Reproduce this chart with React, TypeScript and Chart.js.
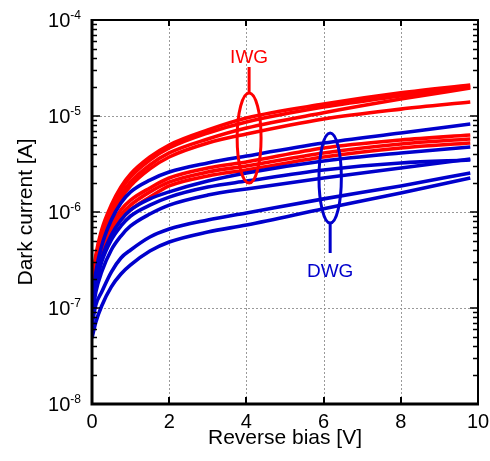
import React, { useEffect, useRef } from "react";
import { Chart, registerables } from "chart.js";

Chart.register(...registerables);

// Reverse bias sample points [V]
const biasV = [0, 0.1, 0.25, 0.5, 0.75, 1, 1.5, 2, 3, 4, 6, 8, 9.8];

// IWG photodiodes, dark current [A]
const iwg1 = [1.74e-7, 3.57e-7, 6.49e-7, 1.18e-6, 1.82e-6, 2.49e-6, 3.74e-6, 4.99e-6, 7.15e-6, 9.53e-6, 1.33e-5, 1.74e-5, 2.1e-5];
const iwg2 = [1.54e-7, 3.32e-7, 6.04e-7, 1.1e-6, 1.7e-6, 2.32e-6, 3.48e-6, 4.64e-6, 6.65e-6, 8.66e-6, 1.24e-5, 1.62e-5, 2.01e-5];
const iwg3 = [1.37e-7, 3.01e-7, 5.36e-7, 9.76e-7, 1.5e-6, 2.05e-6, 3.09e-6, 4.12e-6, 5.76e-6, 7.5e-6, 1.08e-5, 1.5e-5, 1.96e-5];
const iwg4 = [1.21e-7, 2.61e-7, 4.64e-7, 8.66e-7, 1.37e-6, 1.87e-6, 2.81e-6, 3.74e-6, 5.23e-6, 6.49e-6, 9.31e-6, 1.18e-5, 1.4e-5];
const iwg5 = [1.21e-7, 2.49e-7, 4.32e-7, 7.32e-7, 1.05e-6, 1.33e-6, 1.78e-6, 2.26e-6, 2.87e-6, 3.32e-6, 4.64e-6, 5.62e-6, 6.34e-6];
const iwg6 = [1.08e-7, 2.21e-7, 3.83e-7, 6.49e-7, 9.31e-7, 1.18e-6, 1.62e-6, 2.05e-6, 2.61e-6, 3.01e-6, 4.12e-6, 5.11e-6, 5.76e-6];
const iwg7 = [1.0e-7, 1.96e-7, 3.4e-7, 5.76e-7, 8.25e-7, 1.05e-6, 1.43e-6, 1.87e-6, 2.37e-6, 2.74e-6, 3.74e-6, 4.64e-6, 5.23e-6];

// DWG photodiodes, dark current [A]
const dwg1 = [1.08e-7, 2.37e-7, 4.42e-7, 8.25e-7, 1.24e-6, 1.62e-6, 2.15e-6, 2.61e-6, 3.24e-6, 3.83e-6, 5.23e-6, 6.65e-6, 8.25e-6];
const dwg2 = [1.0e-7, 1.96e-7, 3.32e-7, 5.76e-7, 8.25e-7, 1.05e-6, 1.37e-6, 1.62e-6, 2.1e-6, 2.55e-6, 3.4e-6, 4.12e-6, 4.75e-6];
const dwg3 = [9.09e-8, 1.74e-7, 3.01e-7, 5.11e-7, 7.15e-7, 9.09e-7, 1.18e-6, 1.43e-6, 1.82e-6, 2.1e-6, 2.74e-6, 3.24e-6, 3.48e-6];
const dwg4 = [7.87e-8, 1.47e-7, 2.37e-7, 4.02e-7, 5.62e-7, 7.15e-7, 9.53e-7, 1.18e-6, 1.5e-6, 1.74e-6, 2.26e-6, 2.87e-6, 3.57e-6];
const dwg5 = [6.65e-8, 1.08e-7, 1.47e-7, 2.37e-7, 3.32e-7, 4.02e-7, 5.49e-7, 6.65e-7, 8.25e-7, 9.76e-7, 1.37e-6, 1.87e-6, 2.55e-6];
const dwg6 = [4.87e-8, 7.15e-8, 1.05e-7, 1.66e-7, 2.26e-7, 2.81e-7, 3.92e-7, 4.87e-7, 6.19e-7, 7.32e-7, 1.08e-6, 1.58e-6, 2.26e-6];

const iwgSeries = [iwg1, iwg2, iwg3, iwg4, iwg5, iwg6, iwg7];
const dwgSeries = [dwg1, dwg2, dwg3, dwg4, dwg5, dwg6];

// Axes
const xTickValues = [0, 2, 4, 6, 8, 10];
const xTickLabels = ["0", "2", "4", "6", "8", "10"];
const yDecadeExps = [-4, -5, -6, -7, -8];
const yTickLabels = ["-4", "-5", "-6", "-7", "-8"];
const xTitle = "Reverse bias [V]";
const yTitle = "Dark current [A]";

// Group markers: ellipse around each family with a leader line and a name
const iwgMark = { name: "IWG", x: 4.07, halfWidth: 0.31, top: 1.74e-5, bottom: 2.0e-6, stickTo: 3.24e-5, labelAt: 3.24e-5 };
const dwgMark = { name: "DWG", x: 6.17, halfWidth: 0.29, top: 6.65e-6, bottom: 7.68e-7, stickTo: 3.74e-7, labelAt: 3.74e-7 };

const RED = "#ff0000";
const BLUE = "#0000cc";
const FONT = '"Liberation Sans", Arial, Helvetica, sans-serif';

const toPoints = (ys: number[]) => biasV.map((v, i) => ({ x: v, y: ys[i] }));

const axesPlugin = {
  id: "ivAxes",
  beforeDatasetsDraw(chart: any) {
    const { ctx, chartArea: a, scales } = chart;
    const xs = scales.x;
    const ys = scales.y;
    ctx.save();
    ctx.strokeStyle = "#9a9a9a";
    ctx.lineWidth = 1;
    ctx.setLineDash([2, 2]);
    ctx.beginPath();
    xTickValues.slice(1, -1).forEach((v) => {
      const px = Math.round(xs.getPixelForValue(v)) + 0.5;
      ctx.moveTo(px, a.top);
      ctx.lineTo(px, a.bottom);
    });
    yDecadeExps.slice(1, -1).forEach((e) => {
      const py = Math.round(ys.getPixelForValue(Math.pow(10, e))) + 0.5;
      ctx.moveTo(a.left, py);
      ctx.lineTo(a.right, py);
    });
    ctx.stroke();
    ctx.restore();
  },
  afterDatasetsDraw(chart: any) {
    const { ctx, chartArea: a, scales } = chart;
    const xs = scales.x;
    const ys = scales.y;
    ctx.save();

    // group markers
    [
      { m: iwgMark, color: RED },
      { m: dwgMark, color: BLUE },
    ].forEach(({ m, color }) => {
      const cx = xs.getPixelForValue(m.x);
      const rx = xs.getPixelForValue(m.x + m.halfWidth) - cx;
      const top = ys.getPixelForValue(m.top);
      const bottom = ys.getPixelForValue(m.bottom);
      const stick = ys.getPixelForValue(m.stickTo);
      ctx.strokeStyle = color;
      ctx.lineWidth = 3;
      ctx.beginPath();
      ctx.ellipse(cx, (top + bottom) / 2, rx, (bottom - top) / 2, 0, 0, Math.PI * 2);
      ctx.stroke();
      ctx.beginPath();
      if (stick < top) {
        ctx.moveTo(cx, top);
        ctx.lineTo(cx, stick);
      } else {
        ctx.moveTo(cx, bottom);
        ctx.lineTo(cx, stick);
      }
      ctx.stroke();
      ctx.fillStyle = color;
      ctx.font = `19px ${FONT}`;
      ctx.textAlign = "center";
      ctx.textBaseline = "alphabetic";
      const ly = ys.getPixelForValue(m.labelAt);
      if (stick < top) ctx.fillText(m.name, cx, ly - 4);
      else ctx.fillText(m.name, cx, ly + 24);
    });

    // frame
    ctx.strokeStyle = "#000";
    ctx.lineWidth = 2;
    ctx.beginPath();
    ctx.moveTo(a.left, a.top);
    ctx.lineTo(a.right, a.top);
    ctx.lineTo(a.right, a.bottom);
    ctx.stroke();
    ctx.lineWidth = 3;
    ctx.beginPath();
    ctx.moveTo(a.left, a.top - 1);
    ctx.lineTo(a.left, a.bottom);
    ctx.lineTo(a.right + 1, a.bottom);
    ctx.stroke();

    // x ticks (inward, bottom and top)
    ctx.lineWidth = 2;
    ctx.beginPath();
    xTickValues.slice(1, -1).forEach((v) => {
      const px = Math.round(xs.getPixelForValue(v));
      ctx.moveTo(px, a.bottom);
      ctx.lineTo(px, a.bottom - 7);
      ctx.moveTo(px, a.top);
      ctx.lineTo(px, a.top + 6);
    });
    ctx.stroke();

    // y ticks: decades and minor ticks, on both sides
    ctx.lineWidth = 1.6;
    ctx.beginPath();
    yDecadeExps.forEach((e, i) => {
      const major = Math.round(ys.getPixelForValue(Math.pow(10, e)));
      if (i > 0 && i < yDecadeExps.length - 1) {
        ctx.moveTo(a.left, major);
        ctx.lineTo(a.left + 8, major);
        ctx.moveTo(a.right, major);
        ctx.lineTo(a.right - 8, major);
      }
      if (e > -8) {
        for (let k = 2; k <= 9; k++) {
          const py = Math.round(ys.getPixelForValue(k * Math.pow(10, e - 1))) + 0.5;
          ctx.moveTo(a.left, py);
          ctx.lineTo(a.left + 5, py);
          ctx.moveTo(a.right, py);
          ctx.lineTo(a.right - 5, py);
        }
      }
    });
    ctx.stroke();

    // x tick labels
    ctx.fillStyle = "#000";
    ctx.font = `20px ${FONT}`;
    ctx.textAlign = "center";
    ctx.textBaseline = "alphabetic";
    xTickValues.forEach((v, i) => {
      ctx.fillText(xTickLabels[i], xs.getPixelForValue(v), a.bottom + 24);
    });

    // y tick labels: 10 with superscript exponent
    yDecadeExps.forEach((e, i) => {
      const py = ys.getPixelForValue(Math.pow(10, e));
      const right = a.left - 11;
      ctx.font = `12px ${FONT}`;
      ctx.textAlign = "left";
      const expW = ctx.measureText(yTickLabels[i]).width;
      const baseRight = right - expW;
      ctx.fillText(yTickLabels[i], baseRight, py - 1);
      ctx.font = `20px ${FONT}`;
      ctx.textAlign = "right";
      ctx.fillText("10", baseRight, py + 7);
    });

    // axis titles
    ctx.font = `21px ${FONT}`;
    ctx.textAlign = "center";
    ctx.fillText(xTitle, (a.left + a.right) / 2, a.bottom + 40);
    ctx.translate(32, (a.top + a.bottom) / 2);
    ctx.rotate(-Math.PI / 2);
    ctx.fillText(yTitle, 0, 0);

    ctx.restore();
  },
};

export default function App() {
  const canvasRef = useRef<HTMLCanvasElement | null>(null);

  useEffect(() => {
    const canvas = canvasRef.current;
    if (!canvas) return;
    const datasets = [
      ...dwgSeries.map((s, i) => ({
        label: `DWG ${i + 1}`,
        data: toPoints(s),
        borderColor: BLUE,
        backgroundColor: BLUE,
      })),
      ...iwgSeries.map((s, i) => ({
        label: `IWG ${i + 1}`,
        data: toPoints(s),
        borderColor: RED,
        backgroundColor: RED,
      })),
    ].map((d) => ({
      ...d,
      borderWidth: 3.6,
      pointRadius: 0,
      fill: false,
      clip: 0,
      cubicInterpolationMode: "monotone" as const,
    }));

    const chart = new Chart(canvas, {
      type: "line",
      data: { datasets },
      options: {
        animation: false,
        responsive: false,
        maintainAspectRatio: false,
        devicePixelRatio: 1,
        layout: { padding: { left: 92, right: 12, top: 20, bottom: 57 } },
        plugins: { legend: { display: false }, tooltip: { enabled: false } },
        events: [],
        scales: {
          x: { type: "linear", min: 0, max: 10, display: false },
          y: { type: "logarithmic", min: 1e-8, max: 1e-4, display: false },
        },
      },
      plugins: [axesPlugin],
    });
    return () => chart.destroy();
  }, []);

  return (
    <div style={{ position: "absolute", left: 0, top: 0, width: 490, height: 461, background: "#fff" }}>
      <canvas ref={canvasRef} width={490} height={461} style={{ display: "block" }} />
    </div>
  );
}
